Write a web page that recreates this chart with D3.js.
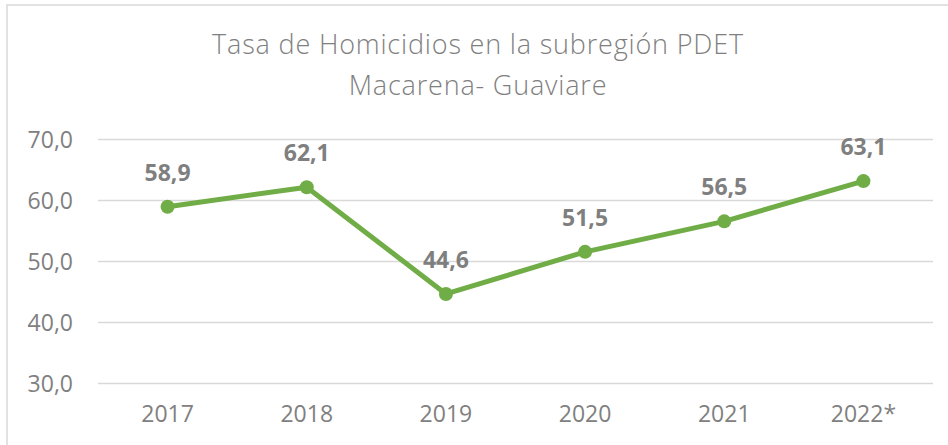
<!DOCTYPE html>
<html>
<head>
<meta charset="utf-8">
<script src="https://cdn.jsdelivr.net/npm/d3@7"></script>
<style>
html,body{margin:0;padding:0;background:#fff;}
svg{display:block;}
</style>
</head>
<body>
<svg id="chart" width="948" height="445"></svg>
<script>
const categories = ["2017","2018","2019","2020","2021","2022*"];
const values = [58.9, 62.1, 44.6, 51.5, 56.5, 63.1];
const yTicks = [30, 40, 50, 60, 70];
const titleLines = ["Tasa de Homicidios en la subregión PDET", "Macarena- Guaviare"];

const svg = d3.select("#chart");
const W = 948, H = 445;
const plot = {left: 98, right: 933, top: 139, bottom: 383};
const fmt = v => v.toFixed(1).replace(".", ",");

// outer border
svg.append("rect").attr("x", 7).attr("y", 5).attr("width", W + 10).attr("height", H + 10)
  .attr("fill", "#fff").attr("stroke", "#d9d9d9").attr("stroke-width", 1.5);

const x = d3.scaleBand().domain(categories).range([plot.left, plot.right]);
const y = d3.scaleLinear().domain([30, 70]).range([plot.bottom, plot.top]);

// title
const title = svg.append("g").selectAll("text").data(titleLines).join("text")
  .attr("x", 478).attr("y", (d, i) => 54 + i * 41)
  .attr("text-anchor", "middle")
  .attr("font-family", "'Open Sans', sans-serif").attr("font-weight", 300)
  .attr("font-size", 27).attr("fill", "#7f7f7f")
  .text(d => d);
// fit first line to the reference width
const targetW = 531;
const w0 = title.nodes()[0].getComputedTextLength();
const sp = (targetW - w0) / (titleLines[0].length - 1);
title.attr("letter-spacing", Math.max(-1, Math.min(1.5, sp)));

// gridlines + y axis
const yAxis = d3.axisLeft(y).tickValues(yTicks).tickFormat(fmt).tickSize(-(plot.right - plot.left)).tickPadding(25);
const gy = svg.append("g").attr("transform", `translate(${plot.left},0)`).call(yAxis);
gy.select(".domain").remove();
gy.selectAll(".tick line").attr("stroke", "#d9d9d9").attr("stroke-width", 1.5);
gy.selectAll(".tick text").attr("font-family", "'Open Sans', sans-serif").attr("font-size", 23)
  .attr("fill", "#808080").attr("dy", "0.35em");

// x axis
const xAxis = d3.axisBottom(x).tickSize(0).tickPadding(23);
const gx = svg.append("g").attr("transform", `translate(0,${plot.bottom})`).call(xAxis);
gx.select(".domain").remove();
gx.selectAll(".tick text").attr("font-family", "'Open Sans', sans-serif").attr("font-size", 23)
  .attr("fill", "#808080");

const cx = d => x(d) + x.bandwidth() / 2;
const data = categories.map((c, i) => ({c, v: values[i]}));

// line
svg.append("path").datum(data)
  .attr("fill", "none").attr("stroke", "#70ad47").attr("stroke-width", 5)
  .attr("stroke-linejoin", "round")
  .attr("d", d3.line().x(d => cx(d.c)).y(d => y(d.v)));

// markers
svg.append("g").selectAll("circle").data(data).join("circle")
  .attr("cx", d => cx(d.c)).attr("cy", d => y(d.v)).attr("r", 7)
  .attr("fill", "#70ad47");

// labels
svg.append("g").selectAll("text").data(data).join("text")
  .attr("x", d => cx(d.c)).attr("y", d => y(d.v) - 26)
  .attr("text-anchor", "middle")
  .attr("font-family", "'Open Sans', sans-serif").attr("font-weight", 700)
  .attr("font-size", 23).attr("fill", "#7f7f7f")
  .text(d => fmt(d.v));
</script>
</body>
</html>
